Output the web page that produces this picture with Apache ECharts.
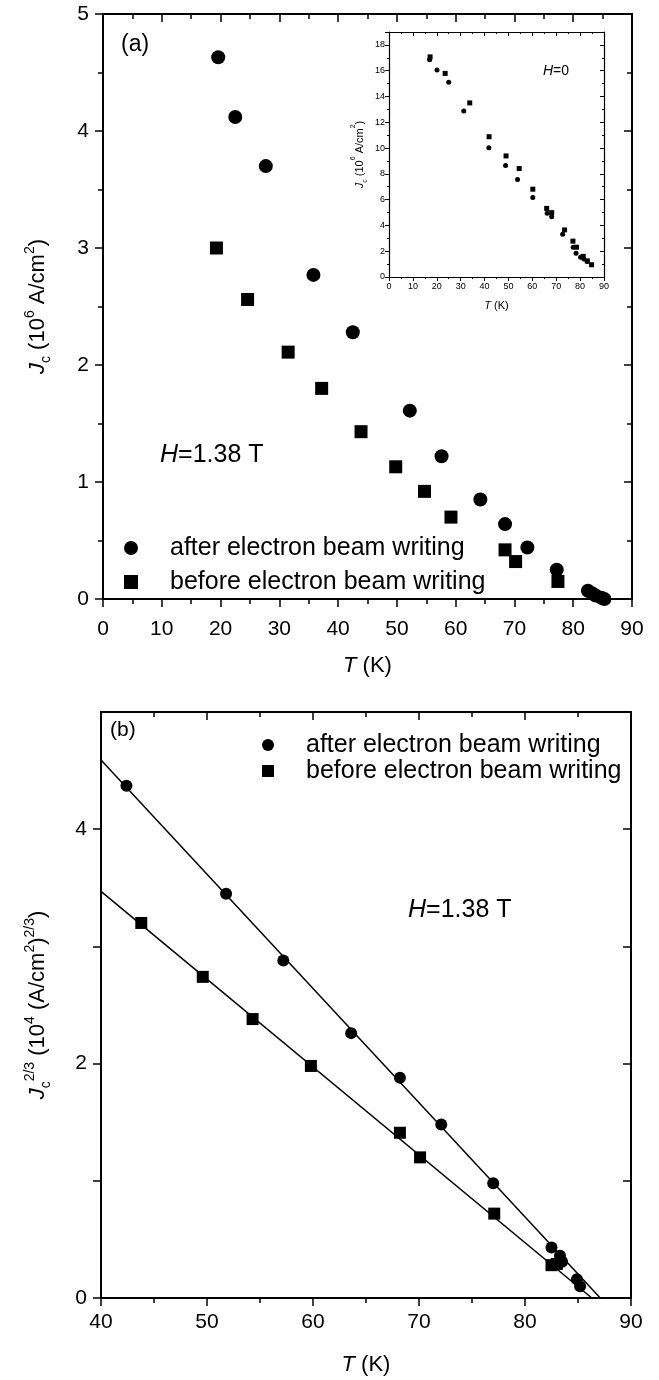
<!DOCTYPE html>
<html>
<head>
<meta charset="utf-8">
<title>Jc vs T</title>
<style>
    html, body { margin: 0; padding: 0; background: #fff; }
    .chart { width: 659px; height: 1380px; }
</style>
</head>
<body>
<div class="chart"></div>
<script src="https://cdn.jsdelivr.net/npm/echarts@6/dist/echarts.min.js"></script>
<script>
// ---- data (T in K, Jc) ----
// panel (a): Jc (10^6 A/cm^2), H = 1.38 T
var afterA = [[19.6, 4.63], [22.5, 4.12], [27.7, 3.70], [35.8, 2.77], [42.5, 2.28],
    [52.2, 1.61], [57.6, 1.22], [64.2, 0.85], [68.4, 0.64], [72.2, 0.44], [77.2, 0.25],
    [82.5, 0.07], [83.2, 0.05], [83.8, 0.03], [84.8, 0.01], [85.3, 0.0]];
var beforeA = [[19.3, 3.00], [24.6, 2.56], [31.5, 2.11], [37.2, 1.80], [43.9, 1.43],
    [49.8, 1.13], [54.7, 0.92], [59.2, 0.70], [68.4, 0.42], [70.2, 0.32], [77.4, 0.15]];
// inset: H = 0
var afterInset = [[17.0, 16.84], [20.1, 16.05], [25.0, 15.10], [31.3, 12.87], [41.8, 10.03],
    [48.8, 8.64], [53.8, 7.56], [60.2, 6.17], [66.2, 4.94], [68.1, 4.68], [72.7, 3.32],
    [77.1, 2.31], [78.3, 1.85], [80.2, 1.54], [81.6, 1.39], [83.0, 1.21]];
var beforeInset = [[17.2, 17.07], [23.5, 15.79], [33.8, 13.50], [41.9, 10.88], [49.0, 9.39],
    [54.5, 8.41], [60.2, 6.81], [66.0, 5.32], [68.1, 4.99], [73.5, 3.65], [77.0, 2.78],
    [78.5, 2.31], [81.3, 1.60], [83.0, 1.25], [84.8, 0.95]];
// panel (b): Jc^(2/3) (10^4 (A/cm^2)^(2/3))
var afterB = [[42.4, 4.37], [51.8, 3.45], [57.2, 2.88], [63.6, 2.26], [68.2, 1.88],
    [72.1, 1.48], [77.0, 0.98], [82.5, 0.43], [83.3, 0.36], [83.5, 0.31], [84.9, 0.16], [85.2, 0.10]];
var beforeB = [[43.8, 3.20], [49.6, 2.74], [54.3, 2.38], [59.8, 1.98], [68.2, 1.41],
    [70.1, 1.20], [77.1, 0.72], [82.5, 0.28], [83.0, 0.29]];
// linear fits in panel (b)
var fitAfterB = [[40, 4.59], [87.1, 0]];
var fitBeforeB = [[40, 3.47], [86.3, 0]];

// tick labels
var tTicksA = [0, 10, 20, 30, 40, 50, 60, 70, 80, 90];
var jTicksA = [0, 1, 2, 3, 4, 5];
var jTicksInset = [0, 2, 4, 6, 8, 10, 12, 14, 16, 18];
var tTicksB = [40, 50, 60, 70, 80, 90];
var jTicksB = [0, 2, 4];

var legendNames = ["after electron beam writing", "before electron beam writing"];

(function () {
    var myChart = echarts.init(document.querySelector(".chart"));
    var font = "'Liberation Sans', Arial, sans-serif";

    // rich text pieces for axis titles
    function rich(size, sup) {
        return {
            n: { fontSize: size, fontFamily: font, color: "#000", lineHeight: size + 8 },
            i: { fontSize: size, fontFamily: font, color: "#000", fontStyle: "italic", lineHeight: size + 8 },
            sup: { fontSize: sup, fontFamily: font, color: "#000", verticalAlign: "top" },
            sub: { fontSize: sup, fontFamily: font, color: "#000", verticalAlign: "bottom" },
        };
    }

    // one axis; mirror = the top / right copy that closes the box
    function axis(dim, grid, r, sz, mirror) {
        var line = { color: "#000", width: sz.tickWidth };
        return {
            type: "value",
            gridIndex: grid,
            position: dim === "x" ? (mirror ? "top" : "bottom") : (mirror ? "right" : "left"),
            min: r.min,
            max: r.max,
            interval: r.interval,
            name: mirror ? "" : r.name,
            nameLocation: "middle",
            nameGap: r.nameGap,
            nameRotate: dim === "y" ? 90 : 0,
            nameTextStyle: { color: "#000", fontFamily: font, fontSize: sz.name, rich: rich(sz.name, sz.sup) },
            splitLine: { show: false },
            axisLine: { onZero: false, lineStyle: { color: "#000", width: sz.line } },
            axisTick: { inside: !!mirror, length: sz.tick, lineStyle: line },
            minorTick: { show: !!r.minor, splitNumber: r.minor || 2, length: sz.minorTick, lineStyle: line },
            axisLabel: {
                show: !mirror,
                color: "#000",
                fontFamily: font,
                fontSize: sz.label,
                margin: r.margin,
                formatter: r.formatter,
                showMaxLabel: r.showMax,
            },
        };
    }

    var bigSize = { line: 2, tick: 8, minorTick: 5, tickWidth: 1.5, label: 21, name: 22, sup: 14 };
    var smallSize = { line: 1.2, tick: 4, minorTick: 2, tickWidth: 1, label: 9, name: 11, sup: 7 };

    var xA = { min: tTicksA[0], max: tTicksA[tTicksA.length - 1], interval: 10, minor: 2, margin: 20,
        name: "{i|T}{n| (K)}", nameGap: 52 };
    var yA = { min: jTicksA[0], max: jTicksA[jTicksA.length - 1], interval: 1, minor: 2, margin: 14,
        name: "{i|J}{sub|c}{n| (10}{sup|6}{n| A/cm}{sup|2}{n|)}", nameGap: 50 };
    var xI = { min: 0, max: 90, interval: 10, minor: 2, margin: 5,
        name: "{i|T}{n| (K)}", nameGap: 19 };
    var yI = { min: jTicksInset[0], max: 19, interval: 2, minor: 2, margin: 4, showMax: false,
        name: "{i|J}{sub|c}{n| (10}{sup|6}{n| A/cm}{sup|2}{n|)}", nameGap: 20 };
    var xB = { min: tTicksB[0], max: tTicksB[tTicksB.length - 1], interval: 10, minor: 2, margin: 14,
        name: "{i|T}{n| (K)}", nameGap: 52 };
    var yB = { min: jTicksB[0], max: 5, interval: 1, margin: 14, showMax: false,
        formatter: function (v) { return jTicksB.indexOf(v) >= 0 ? String(v) : ""; },
        name: "{i|J}{sub|c}{sup|2/3}{n| (10}{sup|4}{n| (A/cm}{sup|2}{n|)}{sup|2/3}{n|)}", nameGap: 48 };

    function scatter(name, data, xi, symbol, size) {
        return {
            name: name, type: "scatter", xAxisIndex: xi, yAxisIndex: xi,
            data: data, symbol: symbol, symbolSize: size,
            itemStyle: { color: "#000", opacity: 1 },
        };
    }
    function fit(name, data) {
        return {
            name: name, type: "line", xAxisIndex: 4, yAxisIndex: 4, data: data,
            showSymbol: false, silent: true,
            lineStyle: { color: "#000", width: 1.5 },
        };
    }
    function legend(left, top, icon, gap) {
        return {
            orient: "vertical", left: left, top: top, padding: 0, itemGap: gap,
            itemWidth: icon, itemHeight: icon, selectedMode: false,
            data: [{ name: legendNames[0], icon: "circle" }, { name: legendNames[1], icon: "rect" }],
            itemStyle: { opacity: 1 },
            textStyle: { color: "#000", fontFamily: font, fontSize: 25, lineHeight: 26, padding: [0, 0, 0, 27] },
        };
    }
    function label(left, top, text, size) {
        return {
            type: "text", left: left, top: top,
            style: {
                text: text,
                rich: {
                    n: { fontSize: size, fontFamily: font, fill: "#000" },
                    i: { fontSize: size, fontFamily: font, fill: "#000", fontStyle: "italic" },
                },
            },
        };
    }

    var option = {
        animation: false,
        backgroundColor: "#fff",
        grid: [
            { left: 103, top: 14, width: 529, height: 585, outerBoundsMode: "none" },
            { left: 389, top: 32, width: 215, height: 245, outerBoundsMode: "none" },
            { left: 101, top: 712, width: 530, height: 586, outerBoundsMode: "none" },
        ],
        xAxis: [
            axis("x", 0, xA, bigSize, false), axis("x", 0, xA, bigSize, true),
            axis("x", 1, xI, smallSize, false), axis("x", 1, xI, smallSize, true),
            axis("x", 2, xB, bigSize, false), axis("x", 2, xB, bigSize, true),
        ],
        yAxis: [
            axis("y", 0, yA, bigSize, false), axis("y", 0, yA, bigSize, true),
            axis("y", 1, yI, smallSize, false), axis("y", 1, yI, smallSize, true),
            axis("y", 2, yB, bigSize, false), axis("y", 2, yB, bigSize, true),
        ],
        legend: [legend(124, 535, 14, 8), legend(262, 732, 12, 0)],
        graphic: [
            label(121, 33, "{n|(a)}", 23),
            label(160, 443, "{i|H}{n|=1.38 T}", 25),
            label(543, 64, "{i|H}{n|=0}", 14),
            label(110, 720, "{n|(b)}", 21),
            label(408, 898, "{i|H}{n|=1.38 T}", 25),
        ],
        series: [
            scatter(legendNames[0], afterA, 0, "circle", 14),
            scatter(legendNames[1], beforeA, 0, "rect", 13),
            scatter("H=0 a", afterInset, 2, "circle", 5),
            scatter("H=0 b", beforeInset, 2, "rect", 5),
            fit("fit after", fitAfterB),
            fit("fit before", fitBeforeB),
            scatter(legendNames[0], afterB, 4, "circle", 12),
            scatter(legendNames[1], beforeB, 4, "rect", 12),
        ],
    };
    myChart.setOption(option);
    window.addEventListener("resize", function () {
        myChart.resize();
    });
})();
</script>
</body>
</html>
